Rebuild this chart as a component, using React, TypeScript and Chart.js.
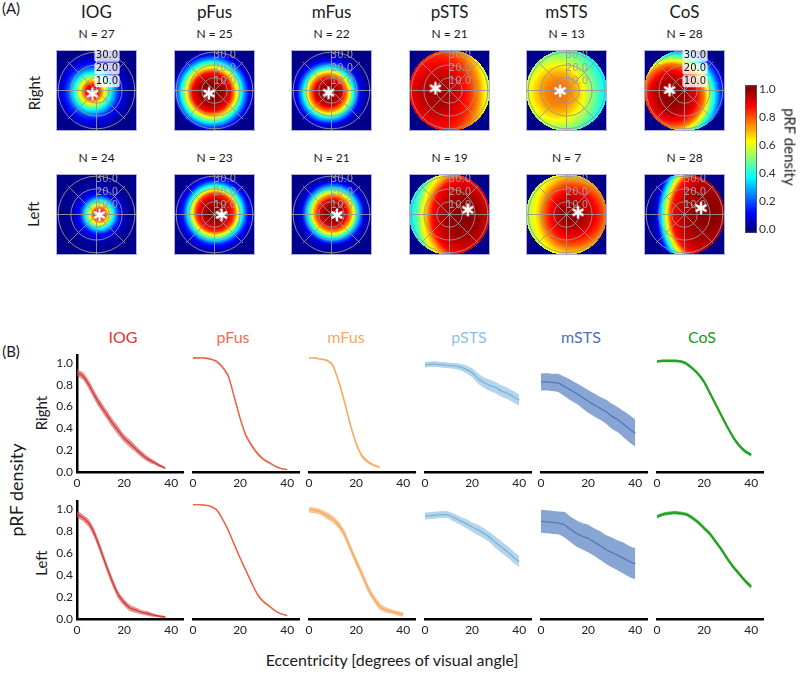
import React, { useEffect, useRef } from "react";
import { Chart, registerables } from "chart.js";
Chart.register(...registerables);
Chart.defaults.font.family = "Lato, 'Open Sans', sans-serif";

// ---------------- shared labels ----------------
const REGIONS = ["IOG", "pFus", "mFus", "pSTS", "mSTS", "CoS"];
const HEMISPHERES = ["Right", "Left"];
const N_RIGHT = [27, 25, 22, 21, 13, 28];
const N_LEFT = [24, 23, 21, 19, 7, 28];

// ---------------- panel A (coverage maps) ----------------
const FIELD_RADIUS = 31.67; // degrees shown inside each square
const RING_ECC = [10, 20, 30];
const SPOKE_ANGLES = [0, 45, 90, 135, 180, 225, 270, 315];
const PROFILE_DIST = [0, 5, 10, 15, 20, 25, 30, 35, 40, 45, 50, 55, 60, 65];

const IOG_R_PROFILE = [1.0, 0.88, 0.6, 0.35, 0.17, 0.07, 0.02, 0, 0, 0, 0, 0, 0, 0];
const PFUS_R_PROFILE = [1.0, 1.0, 0.97, 0.88, 0.6, 0.3, 0.08, 0.01, 0, 0, 0, 0, 0, 0];
const MFUS_R_PROFILE = [1.0, 0.99, 0.93, 0.72, 0.35, 0.1, 0.02, 0, 0, 0, 0, 0, 0, 0];
const PSTS_R_PROFILE = [0.98, 0.97, 0.96, 0.94, 0.91, 0.88, 0.85, 0.8, 0.74, 0.66, 0.58, 0.52, 0.47, 0.43];
const MSTS_R_PROFILE = [0.78, 0.77, 0.75, 0.71, 0.65, 0.57, 0.5, 0.43, 0.37, 0.33, 0.3, 0.28, 0.26, 0.25];
const COS_R_PROFILE = [1.0, 0.99, 0.96, 0.9, 0.76, 0.45, 0.18, 0.05, 0.01, 0, 0, 0, 0, 0];

const IOG_L_PROFILE = [1.0, 0.8, 0.43, 0.15, 0.05, 0.01, 0, 0, 0, 0, 0, 0, 0, 0];
const PFUS_L_PROFILE = [1.0, 0.99, 0.95, 0.82, 0.45, 0.15, 0.04, 0, 0, 0, 0, 0, 0, 0];
const MFUS_L_PROFILE = [1.0, 0.99, 0.92, 0.7, 0.33, 0.07, 0.02, 0, 0, 0, 0, 0, 0, 0];
const PSTS_L_PROFILE = [1.0, 1.0, 0.99, 0.98, 0.95, 0.92, 0.87, 0.72, 0.6, 0.45, 0.37, 0.32, 0.29, 0.27];
const MSTS_L_PROFILE = [1.0, 0.99, 0.96, 0.92, 0.86, 0.78, 0.68, 0.6, 0.55, 0.5, 0.47, 0.45, 0.43, 0.42];
const COS_L_PROFILE = [1.0, 1.0, 0.99, 0.98, 0.97, 0.95, 0.92, 0.86, 0.63, 0.35, 0.08, 0.02, 0.01, 0.01];

// density centres (deg) and anisotropy
const CENTER_X_R = [-3.2, -2.3, -2.3, -8, -6.3, -9.7];
const CENTER_Y_R = [-0.8, -1.3, -1.7, -3, -1.5, -4.3];
const K_LEFT_R = [1, 1, 1, 1, 1, 0.85];
const K_RIGHT_R = [1, 1, 1, 1.3, 1.1, 0.8];
const K_Y_R = [1, 1, 1, 1, 1, 0.8];
const CENTER_X_L = [2.3, 0.5, 1, 10.3, 3, 18];
const CENTER_Y_L = [0, 1.5, 1, -1.7, 0, 0];
const K_LEFT_L = [1, 1, 1, 1.25, 1.2, 1.25];
const K_RIGHT_L = [1, 1, 1, 1.2, 0.9, 1];
const K_Y_L = [1, 1, 1, 1, 1, 1];

// asterisk markers (deg)
const STAR_X_R = [-3.2, -4.3, -2.3, -11, -5, -11.7];
const STAR_Y_R = [-2.5, -2.3, -1.7, 1.7, -0.3, 0.3];
const STAR_X_L = [2.3, 5.5, 4.3, 14.3, 9, 13];
const STAR_Y_L = [-0.3, -0.3, -0.3, 3.7, 1.7, 5];

const PROFILES_R = [IOG_R_PROFILE, PFUS_R_PROFILE, MFUS_R_PROFILE, PSTS_R_PROFILE, MSTS_R_PROFILE, COS_R_PROFILE];
const PROFILES_L = [IOG_L_PROFILE, PFUS_L_PROFILE, MFUS_L_PROFILE, PSTS_L_PROFILE, MSTS_L_PROFILE, COS_L_PROFILE];
const BOXED_LABELS_R = [true, false, false, false, false, true];

// colour bar
const CBAR_TICKS_MIN = -0.025;
const CBAR_TICKS_MAX = 1.03;

// ---------------- panel B (density vs eccentricity) ----------------
const ECC = [0, 2.5, 5, 7.5, 10, 12.5, 15, 17.5, 20, 22.5, 25, 27.5, 30, 32.5, 35, 37.5, 40];

const IOG_R_MEAN = [0.91, 0.88, 0.8, 0.7, 0.61, 0.53, 0.45, 0.38, 0.31, 0.26, 0.21, 0.16, 0.12, 0.09, 0.06, 0.035, null];
const IOG_R_SEM = [0.03, 0.035, 0.04, 0.04, 0.04, 0.04, 0.04, 0.04, 0.035, 0.035, 0.03, 0.03, 0.025, 0.02, 0.015, 0.01, null];
const PFUS_R_MEAN = [1.0, 1.0, 1.0, 0.99, 0.97, 0.92, 0.84, 0.66, 0.47, 0.32, 0.23, 0.16, 0.11, 0.08, 0.05, 0.03, 0.02];
const PFUS_R_SEM = [0.005, 0.005, 0.006, 0.008, 0.01, 0.015, 0.02, 0.02, 0.02, 0.02, 0.015, 0.015, 0.012, 0.01, 0.008, 0.006, 0.005];
const MFUS_R_MEAN = [1.0, 1.0, 0.99, 0.98, 0.94, 0.8, 0.62, 0.42, 0.25, 0.14, 0.09, 0.06, 0.04, null, null, null, null];
const MFUS_R_SEM = [0.005, 0.005, 0.006, 0.01, 0.015, 0.02, 0.025, 0.025, 0.02, 0.02, 0.015, 0.01, 0.01, null, null, null, null];
const PSTS_R_MEAN = [0.94, 0.945, 0.945, 0.94, 0.935, 0.93, 0.92, 0.9, 0.87, 0.82, 0.785, 0.76, 0.74, 0.71, 0.69, 0.66, 0.63];
const PSTS_R_SEM = [0.025, 0.025, 0.025, 0.025, 0.025, 0.025, 0.03, 0.035, 0.04, 0.045, 0.045, 0.05, 0.05, 0.05, 0.05, 0.05, 0.05];
const MSTS_R_MEAN = [0.79, 0.79, 0.785, 0.78, 0.75, 0.72, 0.69, 0.655, 0.62, 0.59, 0.56, 0.53, 0.49, 0.46, 0.42, 0.38, 0.34];
const MSTS_R_SEM = [0.075, 0.075, 0.075, 0.08, 0.085, 0.09, 0.09, 0.095, 0.1, 0.1, 0.1, 0.105, 0.11, 0.11, 0.115, 0.12, 0.12];
const COS_R_MEAN = [0.97, 0.975, 0.975, 0.975, 0.97, 0.95, 0.91, 0.86, 0.79, 0.69, 0.59, 0.49, 0.39, 0.3, 0.23, 0.18, 0.15];
const COS_R_SEM = [0.012, 0.012, 0.012, 0.012, 0.012, 0.013, 0.014, 0.015, 0.015, 0.016, 0.016, 0.016, 0.016, 0.016, 0.016, 0.016, 0.016];

const IOG_L_MEAN = [0.95, 0.92, 0.87, 0.77, 0.63, 0.48, 0.34, 0.22, 0.15, 0.1, 0.08, 0.06, 0.05, 0.035, 0.025, 0.018, null];
const IOG_L_SEM = [0.03, 0.03, 0.035, 0.04, 0.04, 0.04, 0.04, 0.035, 0.03, 0.03, 0.025, 0.02, 0.02, 0.015, 0.012, 0.01, null];
const PFUS_L_MEAN = [0.995, 0.995, 0.99, 0.98, 0.95, 0.87, 0.77, 0.65, 0.53, 0.42, 0.31, 0.21, 0.15, 0.11, 0.07, 0.045, 0.03];
const PFUS_L_SEM = [0.005, 0.005, 0.006, 0.008, 0.01, 0.012, 0.015, 0.015, 0.015, 0.015, 0.015, 0.015, 0.012, 0.01, 0.008, 0.006, 0.005];
const MFUS_L_MEAN = [0.95, 0.945, 0.93, 0.9, 0.87, 0.82, 0.74, 0.62, 0.5, 0.39, 0.27, 0.18, 0.11, 0.08, 0.065, 0.05, 0.04];
const MFUS_L_SEM = [0.025, 0.025, 0.025, 0.03, 0.03, 0.03, 0.035, 0.035, 0.035, 0.035, 0.035, 0.03, 0.03, 0.025, 0.02, 0.02, 0.02];
const PSTS_L_MEAN = [0.895, 0.9, 0.905, 0.91, 0.905, 0.88, 0.855, 0.83, 0.8, 0.775, 0.745, 0.71, 0.665, 0.625, 0.585, 0.54, 0.5];
const PSTS_L_SEM = [0.03, 0.03, 0.03, 0.03, 0.03, 0.035, 0.035, 0.04, 0.04, 0.045, 0.045, 0.045, 0.05, 0.05, 0.05, 0.05, 0.05];
const MSTS_L_MEAN = [0.85, 0.845, 0.84, 0.835, 0.82, 0.78, 0.745, 0.72, 0.7, 0.67, 0.64, 0.605, 0.58, 0.555, 0.53, 0.5, 0.48];
const MSTS_L_SEM = [0.1, 0.1, 0.1, 0.1, 0.11, 0.11, 0.115, 0.115, 0.12, 0.12, 0.125, 0.125, 0.13, 0.13, 0.135, 0.135, 0.135];
const COS_L_MEAN = [0.89, 0.91, 0.92, 0.925, 0.92, 0.91, 0.88, 0.84, 0.79, 0.74, 0.67, 0.6, 0.52, 0.45, 0.39, 0.33, 0.28];
const COS_L_SEM = [0.015, 0.015, 0.015, 0.015, 0.015, 0.015, 0.016, 0.016, 0.016, 0.016, 0.017, 0.017, 0.017, 0.017, 0.018, 0.018, 0.018];

const MEANS_R = [IOG_R_MEAN, PFUS_R_MEAN, MFUS_R_MEAN, PSTS_R_MEAN, MSTS_R_MEAN, COS_R_MEAN];
const SEMS_R = [IOG_R_SEM, PFUS_R_SEM, MFUS_R_SEM, PSTS_R_SEM, MSTS_R_SEM, COS_R_SEM];
const MEANS_L = [IOG_L_MEAN, PFUS_L_MEAN, MFUS_L_MEAN, PSTS_L_MEAN, MSTS_L_MEAN, COS_L_MEAN];
const SEMS_L = [IOG_L_SEM, PFUS_L_SEM, MFUS_L_SEM, PSTS_L_SEM, MSTS_L_SEM, COS_L_SEM];

const X_TICKS_STEP = 20;
const Y_TICKS_STEP = 0.2;

// ---------------- styles ----------------
const TITLE_COLORS = ["#e8312f", "#f26a4f", "#f8a863", "#8fbfe2", "#4b72b6", "#17991a"];
const LINE_COLORS = ["#c82a2a", "#ea5639", "#f3a04e", "#5a9fd0", "#3561aa", "#1c9c1c"];
const BAND_COLORS = [
  "rgba(214,70,70,0.6)",
  "rgba(240,105,75,0.6)",
  "rgba(248,175,105,0.7)",
  "rgba(140,190,225,0.65)",
  "rgba(90,130,195,0.72)",
  "rgba(40,165,40,0.7)",
];

const HEAT_LEFTS = [49, 167, 284, 402, 519, 637];
const HEAT_TOPS = [43, 167];
const HEAT_SIZE = 95;
const LINE_X0 = [77, 193, 309, 425, 541, 657];
const LINE_ROW_ZERO = [472, 619];
const LINE_ROW_UNIT = [114, 115];
const LINE_Y_MAX = 1.07;
const LINE_X_MAX = 45;
const LINE_PX_PER_DEG = 2.35;
const B_TITLE_X = [123, 233, 346, 469, 581, 702];

// ---------------- helpers ----------------
function clamp01(v: number) {
  return Math.max(0, Math.min(1, v));
}
function jet(v: number): [number, number, number] {
  const x = 0.01 + 0.98 * clamp01(v);
  const r = clamp01(1.5 - Math.abs(4 * x - 3));
  const g = clamp01(1.5 - Math.abs(4 * x - 2));
  const b = clamp01(1.5 - Math.abs(4 * x - 1));
  return [Math.round(r * 255), Math.round(g * 255), Math.round(b * 255)];
}
function interpProfile(d: number, prof: number[]) {
  const step = PROFILE_DIST[1] - PROFILE_DIST[0];
  const last = PROFILE_DIST.length - 1;
  if (d >= PROFILE_DIST[last]) return prof[last];
  const i = Math.floor(d / step);
  const t = (d - PROFILE_DIST[i]) / step;
  return prof[i] * (1 - t) + prof[i + 1] * t;
}

let starImg: HTMLCanvasElement | null = null;
function getStar() {
  if (starImg) return starImg;
  const c = document.createElement("canvas");
  c.width = 14;
  c.height = 14;
  const g = c.getContext("2d")!;
  g.strokeStyle = "#ffffff";
  g.lineWidth = 2.4;
  g.lineCap = "round";
  for (let k = 0; k < 3; k++) {
    const a = Math.PI / 2 + (k * Math.PI) / 3;
    g.beginPath();
    g.moveTo(7 + Math.cos(a) * 5.3, 7 - Math.sin(a) * 5.3);
    g.lineTo(7 - Math.cos(a) * 5.3, 7 + Math.sin(a) * 5.3);
    g.stroke();
  }
  starImg = c;
  return c;
}

type HeatParams = {
  profile: number[];
  cx: number;
  cy: number;
  kl: number;
  kr: number;
  ky: number;
  sx: number;
  sy: number;
  boxed: boolean;
};

function heatPlugin(p: HeatParams) {
  return {
    id: "coverageMap",
    beforeDatasetsDraw(chart: any) {
      const { ctx, chartArea: a, scales } = chart;
      const xs = scales.x;
      const ys = scales.y;
      const w = Math.round(a.right - a.left);
      const h = Math.round(a.bottom - a.top);
      const img = ctx.createImageData(w, h);
      for (let j = 0; j < h; j++) {
        const yv = ys.getValueForPixel(a.top + j + 0.5);
        for (let i = 0; i < w; i++) {
          const xv = xs.getValueForPixel(a.left + i + 0.5);
          let v = 0;
          if (Math.hypot(xv, yv) <= FIELD_RADIUS) {
            const dx = xv - p.cx;
            const dy = yv - p.cy;
            const d = Math.hypot(dx * (dx < 0 ? p.kl : p.kr), dy * p.ky);
            v = interpProfile(d, p.profile);
          }
          const [r, g, b] = jet(v);
          const k = (j * w + i) * 4;
          img.data[k] = r;
          img.data[k + 1] = g;
          img.data[k + 2] = b;
          img.data[k + 3] = 255;
        }
      }
      ctx.putImageData(img, Math.round(a.left), Math.round(a.top));

      const cxp = xs.getPixelForValue(0);
      const cyp = ys.getPixelForValue(0);
      const ppd = (xs.getPixelForValue(10) - cxp) / 10;
      ctx.save();
      ctx.strokeStyle = "rgba(150,150,150,0.9)";
      ctx.lineWidth = 1;
      RING_ECC.forEach((r) => {
        ctx.beginPath();
        ctx.arc(cxp, cyp, r * ppd, 0, Math.PI * 2);
        ctx.stroke();
      });
      SPOKE_ANGLES.forEach((deg) => {
        const t = (deg * Math.PI) / 180;
        ctx.beginPath();
        ctx.moveTo(cxp, cyp);
        ctx.lineTo(
          xs.getPixelForValue(Math.cos(t) * FIELD_RADIUS),
          ys.getPixelForValue(Math.sin(t) * FIELD_RADIUS)
        );
        ctx.stroke();
      });
      ctx.strokeStyle = "rgba(175,175,215,1)";
      ctx.strokeRect(a.left + 0.5, a.top + 0.5, w - 1, h - 1);

      ctx.font = "10px 'DejaVu Sans', sans-serif";
      ctx.textAlign = "center";
      ctx.textBaseline = "middle";
      RING_ECC.forEach((r) => {
        const tx = cxp + 10.5;
        const ty = ys.getPixelForValue(r) + 3.5;
        const label = r.toFixed(1);
        if (p.boxed) {
          const tw = ctx.measureText(label).width;
          ctx.fillStyle = "rgba(255,255,255,0.8)";
          ctx.beginPath();
          (ctx as any).roundRect
            ? (ctx as any).roundRect(tx - tw / 2 - 1.5, ty - 6, tw + 3, 12, 2)
            : ctx.rect(tx - tw / 2 - 1.5, ty - 6, tw + 3, 12);
          ctx.fill();
          ctx.fillStyle = "#111";
        } else {
          ctx.fillStyle = "rgba(160,160,160,0.95)";
        }
        ctx.fillText(label, tx, ty);
      });
      ctx.restore();
    },
  };
}

function HeatPanel({ left, top, params }: { left: number; top: number; params: HeatParams }) {
  const ref = useRef<HTMLCanvasElement>(null);
  useEffect(() => {
    const chart = new Chart(ref.current!, {
      type: "scatter",
      data: {
        datasets: [
          {
            data: [{ x: params.sx, y: params.sy }],
            pointStyle: getStar() as any,
            pointRadius: 6,
          },
        ],
      },
      options: {
        animation: false,
        responsive: false,
        events: [],
        layout: { padding: 0 },
        scales: {
          x: { display: false, min: -FIELD_RADIUS, max: FIELD_RADIUS },
          y: { display: false, min: -FIELD_RADIUS, max: FIELD_RADIUS },
        },
        plugins: { legend: { display: false }, tooltip: { enabled: false } },
      },
      plugins: [heatPlugin(params)],
    } as any);
    return () => chart.destroy();
  }, []);
  return (
    <canvas
      ref={ref}
      width={HEAT_SIZE}
      height={HEAT_SIZE}
      style={{ position: "absolute", left, top, width: HEAT_SIZE, height: HEAT_SIZE }}
    />
  );
}

function Colorbar() {
  const ref = useRef<HTMLCanvasElement>(null);
  useEffect(() => {
    const chart = new Chart(ref.current!, {
      type: "scatter",
      data: { datasets: [{ data: [] }] },
      options: {
        animation: false,
        responsive: false,
        events: [],
        layout: { padding: { top: 6, bottom: 7, left: 0, right: 0 } },
        scales: {
          x: { display: false, min: 0, max: 1 },
          y: {
            position: "right",
            min: CBAR_TICKS_MIN,
            max: CBAR_TICKS_MAX,
            afterFit: (s: any) => {
              s.width = 38;
            },
            grid: { display: false, drawTicks: false },
            border: { display: false },
            ticks: {
              stepSize: 0.2,
              includeBounds: false,
              padding: 2,
              color: "#333",
              font: { size: 12 },
              callback: (v: any) => Number(v).toFixed(1),
            },
          },
        },
        plugins: { legend: { display: false }, tooltip: { enabled: false } },
      },
      plugins: [
        {
          id: "jetBar",
          beforeDatasetsDraw(c: any) {
            const { ctx, chartArea: a, scales } = c;
            for (let j = Math.floor(a.top); j < Math.ceil(a.bottom); j++) {
              const v = scales.y.getValueForPixel(j + 0.5);
              const [r, g, b] = jet(v);
              ctx.fillStyle = `rgb(${r},${g},${b})`;
              ctx.fillRect(a.left, j, a.right - a.left, 1);
            }
            ctx.strokeStyle = "rgba(90,90,90,0.8)";
            ctx.lineWidth = 1;
            ctx.strokeRect(a.left + 0.5, a.top + 0.5, a.right - a.left - 1, a.bottom - a.top - 1);
          },
        },
      ],
    } as any);
    return () => chart.destroy();
  }, []);
  return (
    <canvas
      ref={ref}
      width={50}
      height={166}
      style={{ position: "absolute", left: 745, top: 76, width: 50, height: 166 }}
    />
  );
}

function LinePanel({ col, row }: { col: number; row: number }) {
  const ref = useRef<HTMLCanvasElement>(null);
  const plotH = Math.round(LINE_Y_MAX * LINE_ROW_UNIT[row]);
  const plotTop = LINE_ROW_ZERO[row] - plotH;
  const plotW = Math.round(LINE_X_MAX * LINE_PX_PER_DEG);
  const padTop = 6;
  const axisH = 22;
  const leftSpace = 40;
  const width = leftSpace + plotW + 8;
  const height = padTop + plotH + axisH;
  useEffect(() => {
    const mean = (row === 0 ? MEANS_R : MEANS_L)[col];
    const sem = (row === 0 ? SEMS_R : SEMS_L)[col];
    const upper = ECC.map((e, i) => ({ x: e, y: mean[i] == null ? null : mean[i]! + sem[i]! }));
    const lower = ECC.map((e, i) => ({ x: e, y: mean[i] == null ? null : mean[i]! - sem[i]! }));
    const mid = ECC.map((e, i) => ({ x: e, y: mean[i] }));
    const chart = new Chart(ref.current!, {
      type: "line",
      data: {
        datasets: [
          {
            data: upper,
            borderWidth: 0,
            pointRadius: 0,
            fill: "+1",
            backgroundColor: BAND_COLORS[col],
            borderColor: "rgba(0,0,0,0)",
            tension: 0.2,
          },
          {
            data: lower,
            borderWidth: 0,
            pointRadius: 0,
            fill: false,
            borderColor: "rgba(0,0,0,0)",
            tension: 0.2,
          },
          {
            data: mid,
            borderWidth: col === 5 ? 2.2 : 1.3,
            pointRadius: 0,
            fill: false,
            borderColor: LINE_COLORS[col],
            tension: 0.2,
          },
        ],
      },
      options: {
        animation: false,
        responsive: false,
        events: [],
        layout: { padding: { left: col === 0 ? 0 : leftSpace, top: padTop, right: 8, bottom: 0 } },
        scales: {
          x: {
            type: "linear",
            min: 0,
            max: LINE_X_MAX,
            afterFit: (s: any) => {
              s.height = axisH;
            },
            grid: { display: false, drawTicks: false },
            border: { color: "#000", width: 2.5 },
            ticks: {
              stepSize: X_TICKS_STEP,
              includeBounds: false,
              maxRotation: 0,
              autoSkip: false,
              padding: 4,
              color: "#222",
              font: { size: 12 },
            },
          },
          y: {
            display: col === 0,
            min: 0,
            max: LINE_Y_MAX,
            afterFit: (s: any) => {
              if (col === 0) s.width = leftSpace;
            },
            grid: { display: false, drawTicks: false },
            border: { color: "#000", width: 2.5 },
            ticks: {
              stepSize: Y_TICKS_STEP,
              includeBounds: false,
              padding: 4,
              color: "#222",
              font: { size: 12 },
              callback: (v: any) => Number(v).toFixed(1),
            },
          },
        },
        plugins: { legend: { display: false }, tooltip: { enabled: false } },
      },
    } as any);
    return () => chart.destroy();
  }, []);
  return (
    <canvas
      ref={ref}
      width={width}
      height={height}
      style={{ position: "absolute", left: LINE_X0[col] - leftSpace, top: plotTop - padTop, width, height }}
    />
  );
}

function Label({
  x,
  y,
  text,
  size,
  color = "#1a1a1a",
  rotate = 0,
}: {
  x: number;
  y: number;
  text: string;
  size: number;
  color?: string;
  rotate?: number;
}) {
  return (
    <div
      style={{
        position: "absolute",
        left: x,
        top: y,
        transform: `translate(-50%, -50%) rotate(${rotate}deg)`,
        fontFamily: "Lato, 'Open Sans', sans-serif",
        fontSize: size,
        color,
        whiteSpace: "nowrap",
        lineHeight: 1,
      }}
    >
      {text}
    </div>
  );
}

export default function App() {
  const heat: React.ReactNode[] = [];
  for (let row = 0; row < 2; row++) {
    for (let c = 0; c < 6; c++) {
      const params: HeatParams =
        row === 0
          ? {
              profile: PROFILES_R[c],
              cx: CENTER_X_R[c],
              cy: CENTER_Y_R[c],
              kl: K_LEFT_R[c],
              kr: K_RIGHT_R[c],
              ky: K_Y_R[c],
              sx: STAR_X_R[c],
              sy: STAR_Y_R[c],
              boxed: BOXED_LABELS_R[c],
            }
          : {
              profile: PROFILES_L[c],
              cx: CENTER_X_L[c],
              cy: CENTER_Y_L[c],
              kl: K_LEFT_L[c],
              kr: K_RIGHT_L[c],
              ky: K_Y_L[c],
              sx: STAR_X_L[c],
              sy: STAR_Y_L[c],
              boxed: false,
            };
      heat.push(<HeatPanel key={`h${row}${c}`} left={HEAT_LEFTS[c]} top={HEAT_TOPS[row]} params={params} />);
    }
  }
  const lines: React.ReactNode[] = [];
  for (let row = 0; row < 2; row++) {
    for (let c = 0; c < 6; c++) {
      lines.push(<LinePanel key={`l${row}${c}`} col={c} row={row} />);
    }
  }
  return (
    <div
      style={{
        position: "absolute",
        left: 0,
        top: 0,
        width: 800,
        height: 678,
        background: "#fff",
        overflow: "hidden",
      }}
    >
      <Label x={11} y={8} text="(A)" size={15} />
      {REGIONS.map((r, i) => (
        <Label key={`t${i}`} x={HEAT_LEFTS[i] + HEAT_SIZE / 2} y={11} text={r} size={17} />
      ))}
      {N_RIGHT.map((n, i) => (
        <Label key={`nr${i}`} x={HEAT_LEFTS[i] + HEAT_SIZE / 2} y={34} text={`N = ${n}`} size={12} />
      ))}
      {N_LEFT.map((n, i) => (
        <Label key={`nl${i}`} x={HEAT_LEFTS[i] + HEAT_SIZE / 2} y={158} text={`N = ${n}`} size={12} />
      ))}
      <Label x={33.5} y={93} text={HEMISPHERES[0]} size={15} rotate={-90} />
      <Label x={33} y={214} text={HEMISPHERES[1]} size={15} rotate={-90} />
      {heat}
      <Colorbar />
      <Label x={790} y={147} text="pRF density" size={15} rotate={90} />

      <Label x={11} y={351} text="(B)" size={15} />
      {REGIONS.map((r, i) => (
        <Label key={`bt${i}`} x={B_TITLE_X[i]} y={337} text={r} size={16} color={TITLE_COLORS[i]} />
      ))}
      <Label x={41} y={413} text={HEMISPHERES[0]} size={15} rotate={-90} />
      <Label x={41} y={563} text={HEMISPHERES[1]} size={15} rotate={-90} />
      <Label x={15.5} y={490} text="pRF density" size={18} rotate={-90} />
      {lines}
      <Label x={392} y={660} text="Eccentricity [degrees of visual angle]" size={16} />
    </div>
  );
}
